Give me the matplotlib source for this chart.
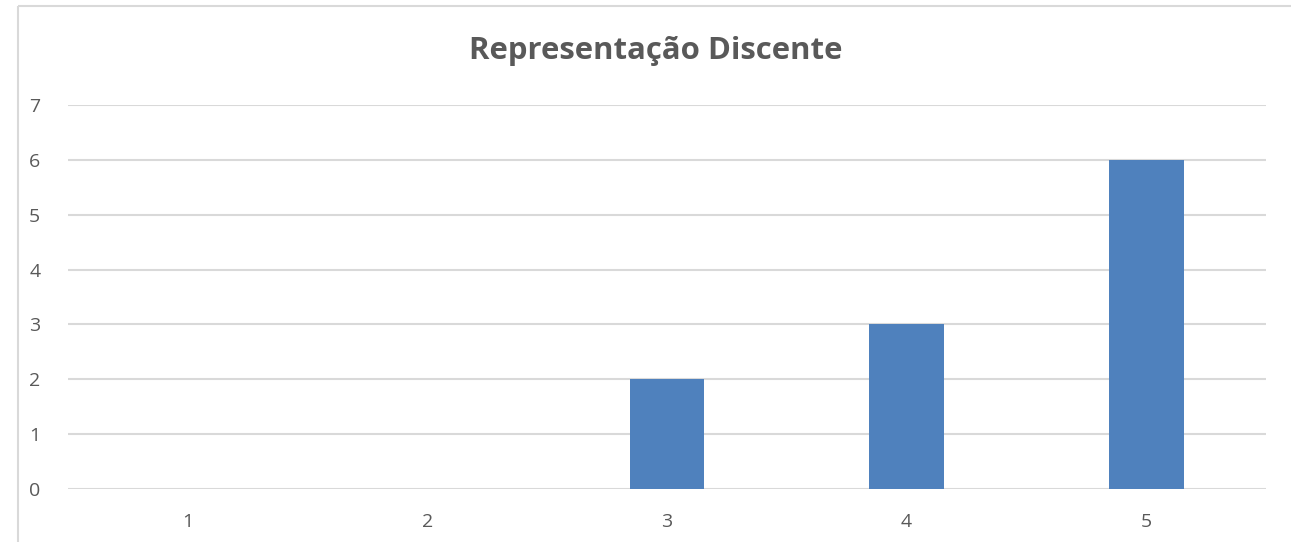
import matplotlib.pyplot as plt
from matplotlib.lines import Line2D

categories = ['1', '2', '3', '4', '5']
values = [0, 0, 2, 3, 6]
y_ticks = [0, 1, 2, 3, 4, 5, 6, 7]
title = 'Representação Discente'

plt.rcParams['font.family'] = ['Open Sans', 'DejaVu Sans']

fig = plt.figure(figsize=(12.91, 5.42), dpi=100)
ax = fig.add_axes([0.0527, 0.0978, 0.9279, 0.7085])

# chart frame (screenshot of a document, clipped at the right/bottom)
fx, fy = 17.5 / 1291, 1 - 6 / 542
fig.lines.append(Line2D([fx, 1.02], [fy, fy], transform=fig.transFigure,
                        color='#D9D9D9', linewidth=1.5, solid_capstyle='butt'))
fig.lines.append(Line2D([fx, fx], [-0.02, fy], transform=fig.transFigure,
                        color='#D9D9D9', linewidth=1.5, solid_capstyle='butt'))

x = list(range(1, len(categories) + 1))
ax.bar(x, values, width=0.313, color='#4F81BD', zorder=3)

ax.set_xlim(0.5, 5.5)
ax.set_ylim(0, 7)
ax.set_yticks(y_ticks)
ax.set_xticks(x)
ax.set_xticklabels(categories)
ax.grid(axis='y', color='#D9D9D9', linewidth=1.5, zorder=0)
for s in ax.spines.values():
    s.set_visible(False)
ax.tick_params(length=0, labelsize=14, colors='#595959')
ax.tick_params(axis='y', pad=20)
ax.tick_params(axis='x', pad=17)

fig.text(656 / 1291, 1 - 51 / 542, title, ha='center', va='center',
         fontsize=22.4, fontweight='bold', color='#595959')

fig.savefig('out.png', dpi=100)
